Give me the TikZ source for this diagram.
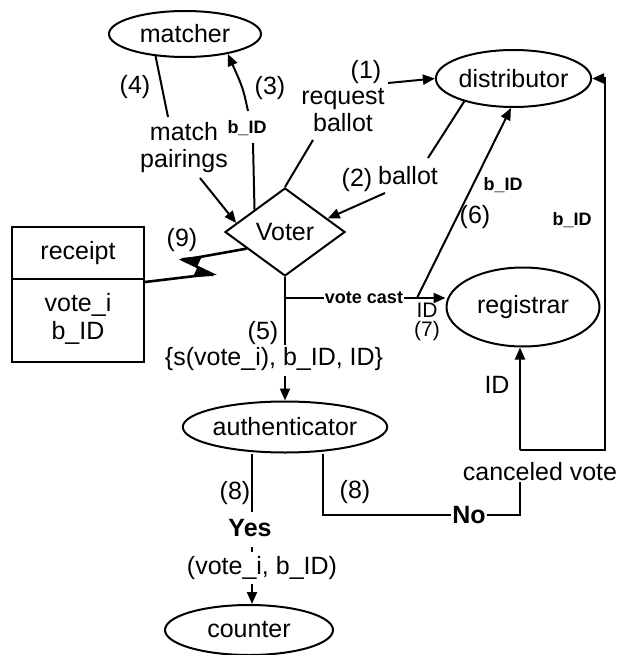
\documentclass[tikz,border=0pt]{standalone}
\usepackage{fontspec}
\setmainfont{Liberation Sans}
\usetikzlibrary{shapes.geometric,arrows.meta,calc}
\begin{document}
\begin{tikzpicture}[x=1pt,y=-1pt,
  line width=2pt,
  every node/.style={inner sep=0pt, font=\fontsize{25}{27}\selectfont},
  ell/.style={draw, ellipse, line width=2pt},
  small/.style={font=\fontsize{18}{20}\selectfont\bfseries},
  mid/.style={font=\fontsize{21}{23}\selectfont},
  big/.style={font=\fontsize{25}{27}\selectfont\bfseries},
  arr/.style={-{Triangle[length=12pt,width=10pt]}},
]
\useasboundingbox (0,0) rectangle (616,655);
% main nodes
\node[ell, minimum width=152pt, minimum height=46pt] (matcher) at (185,34) {matcher};
\node[ell, minimum width=147pt, minimum height=57pt] (dist) at (513.5,78.5) {distributor};
\node[draw, diamond, minimum width=120pt, minimum height=88pt] (voter) at (285,232) {Voter};
\node[ell, minimum width=153pt, minimum height=79pt] (reg) at (523,307) {registrar};
\node[ell, minimum width=195pt, minimum height=51pt] (auth) at (285,427) {authenticator};
\node[ell, minimum width=168pt, minimum height=50pt] (counter) at (249,630) {counter};
\node[draw, minimum width=132pt, minimum height=135pt] (receipt) at (78,294.5) {};
\draw (receipt.west |- 0,279) -- (receipt.east |- 0,279);
\node (rtitle) at (78,253) {receipt};
\node (rv) at (78,305) {vote\_i};
\node (rb) at (78,333) {b\_ID};
% labels
\node (l3) at (270,88) {(3)};
\node[small] (bid3) at (247,128) {b\_ID};
\node (l4) at (135,87) {(4)};
\node[align=center] (pairs) at (184,148) {match\\pairings};
\node (l1) at (366,72) {(1)};
\node[align=center] (req) at (343,110) {request\\ballot};
\node (l2) at (357,180) {(2)};
\node (ballot2) at (408,176) {ballot};
\node[small] (bid6) at (503,185) {b\_ID};
\node (l6) at (475,217) {(6)};
\node[small] (bidr) at (572,220) {b\_ID};
\node (l9) at (182,240) {(9)};
\node[small] (vc) at (364,298) {vote cast};
\node[mid] (id7) at (427,310) {ID};
\node[mid] (l7) at (427,331) {(7)};
\node (l5) at (263,333) {(5)};
\node (msg5) at (274,359) {\{s(vote\_i), b\_ID, ID\}};
\node (idr) at (497,385) {ID};
\node (cv) at (540,472) {canceled vote};
\node (l8a) at (235,493) {(8)};
\node (l8b) at (355,492) {(8)};
\node[big] (yes) at (250,528) {Yes};
\node (msg8) at (262,568) {(vote\_i, b\_ID)};
\node[big] (no) at (469,515) {No};
% (3)
\coordinate (c3a) at (253,143);
\coordinate (c3b) at (248,111);
\draw (voter.north west) -- (c3a);
\draw[arr] (c3b) .. controls (243,88) .. (matcher.-25);
% (4)
\coordinate (c4a) at (168,117);
\coordinate (c4b) at (200,178);
\draw (matcher.-143) -- (c4a);
\draw[arr] (c4b) -- ($(voter.west)!0.2!(voter.north)$);
% (1)
\coordinate (c1a) at (313,140);
\coordinate (c1b) at (388,83);
\draw (voter.north) -- (c1a);
\draw[arr] (c1b) -- (dist.west);
% (2)
\coordinate (c2a) at (428,158);
\coordinate (c2b) at (385,193);
\draw (dist.-155) -- (c2a);
\draw[arr] (c2b) -- ($(voter.north)!0.7!(voter.east)$);
% vote cast, (6), (5)
\coordinate (j) at (285,298);
\coordinate (c6) at (417,298);
\coordinate (c5a) at (285,345);
\coordinate (c5b) at (285,376);
\draw (voter.south) -- (c5a);
\draw (j) -- (vc.west);
\draw[arr] (vc.east) -- (reg.west |- j);
\draw[arr] (c6) -- (dist.-95);
\draw[arr] (c5b) -- (auth.north);
% Yes
\coordinate (c8a) at (252,512);
\coordinate (dA) at (252,547);
\coordinate (dB) at (252,552);
\coordinate (c8b) at (252,584);
\draw (auth.south -| c8a) -- (c8a);
\draw (dA) -- (dB);
\draw[arr] (c8b) -- (counter.north -| c8b);
% No
\coordinate (n1) at (323,515);
\coordinate (cx) at (520,515);
\draw (auth.south -| n1) -- (n1) -- (no.west);
\draw (no.east) -- (cx) -- (cx |- cv.south);
% canceled vote
\coordinate (cvt) at (520,450);
\coordinate (rc) at (605,450);
\coordinate (rt) at (605,78.5);
\draw[arr] (cvt) -- (reg.south -| cvt);
\draw[arr] (cvt) -- (rc) -- (rt) -- (dist.east);
% (9) lightning
\coordinate (vp) at ($(voter.west)!0.37!(voter.south)$);
\coordinate (p1) at (183,260);
\coordinate (p2) at (212,274);
\draw[line width=2.6pt, line join=miter] (vp) -- (p1) -- (p2) -- (receipt.east |- 0,282);
\fill (181,258) -- (202,256) -- (197,267) -- cycle;
\fill (214,276) -- (193,277) -- (198,266) -- cycle;
\end{tikzpicture}
\end{document}
